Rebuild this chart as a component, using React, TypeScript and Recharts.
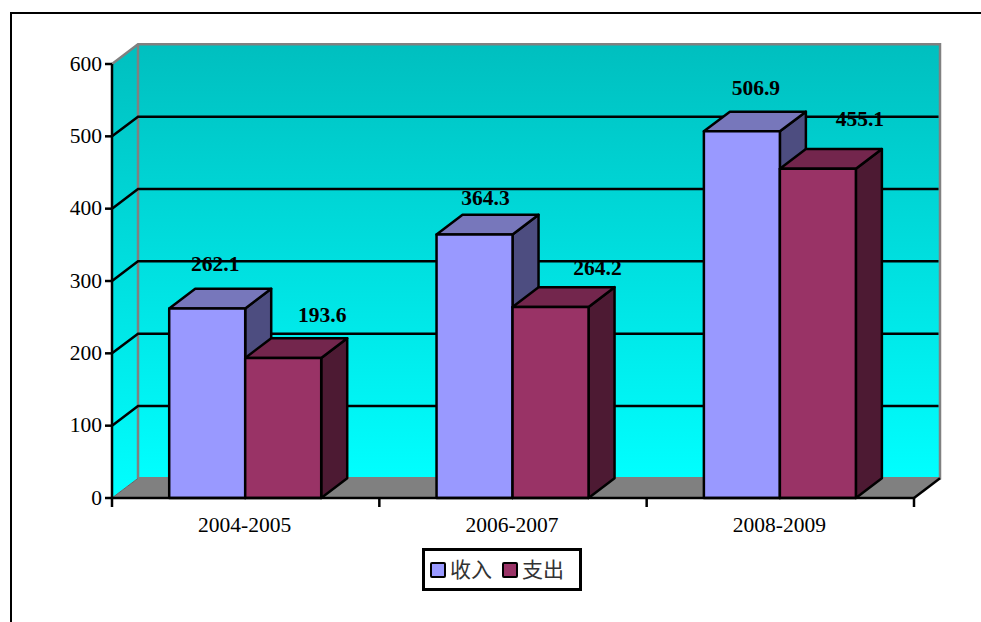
import { BarChart, Bar, XAxis, YAxis, ReferenceArea, ReferenceLine, LabelList, Legend } from "recharts";

const periods = ["2004-2005", "2006-2007", "2008-2009"];
const income = [262.1, 364.3, 506.9];
const spending = [193.6, 264.2, 455.1];
const yTicks = [0, 100, 200, 300, 400, 500, 600];

const data = periods.map((period, i) => ({ period, income: income[i], spending: spending[i] }));

// 3d look of the old office chart
const DX = 26;
const DY = 19.7;
const W = 981;
const H = 622;
const margin = { top: 64, right: 67, bottom: 41, left: 52 };
const plotWidth = 802;
const serif = '"Liberation Serif", "Noto Sans CJK SC", serif';

// hand placed label offsets from the bar top, the original has them dragged around
const incomeNudge = [[8, -44], [11, -36], [14, -43]];
const spendingNudge = [[39, -43], [47, -39], [42, -50]];

function pts(list: number[][]) {
  return list.map(p => p.join(",")).join(" ");
}

function Box3D(props: any) {
  const { x, y, width, height, front, top, side } = props;
  return (
    <g stroke="#000" strokeWidth={2.5} strokeLinejoin="round">
      <polygon fill={side} points={pts([[x + width, y], [x + width + DX, y - DY], [x + width + DX, y + height - DY], [x + width, y + height]])} />
      <polygon fill={top} points={pts([[x, y], [x + DX, y - DY], [x + width + DX, y - DY], [x + width, y]])} />
      <rect x={x} y={y} width={width} height={height} fill={front} />
    </g>
  );
}

function Walls(props: any) {
  const { x, y, width, height } = props;
  const b = y + height;
  const r = x + width;
  return (
    <g>
      <polygon fill="url(#wall)" points={pts([[x, y], [x + DX, y - DY], [x + DX, b - DY], [x, b]])} />
      <rect x={x + DX} y={y - DY} width={width} height={height} fill="url(#wall)" />
      <polygon fill="#808080" points={pts([[x, b], [x + DX, b - DY], [r + DX, b - DY], [r, b]])} />
      <polyline fill="none" stroke="#808080" strokeWidth={2.5} points={pts([[x, y], [x + DX, y - DY], [r + DX, y - DY], [r + DX, b - DY], [x + DX, b - DY]])} />
      <line x1={x + DX} y1={y - DY} x2={x + DX} y2={b - DY} stroke="#808080" strokeWidth={2.5} />
      <line x1={x} y1={b} x2={x + DX} y2={b - DY} stroke="#666" strokeWidth={1} />
      <line x1={r} y1={b} x2={r + DX} y2={b - DY} stroke="#000" strokeWidth={2.5} />
    </g>
  );
}

function GridLine(props: any) {
  const { x1, x2, y1 } = props;
  return (
    <polyline
      fill="none"
      stroke="#000"
      strokeWidth={2.5}
      points={pts([[x1, y1], [x1 + DX, y1 - DY], [x2 + DX - 1.5, y1 - DY]])}
    />
  );
}

function CategoryTick(props: any) {
  const { x, y, payload, index } = props;
  const band = plotWidth / periods.length;
  const left = x - band / 2;
  return (
    <g>
      <line x1={left} y1={y - 8} x2={left} y2={y + 1} stroke="#000" strokeWidth={2.5} />
      {index === periods.length - 1 && (
        <line x1={left + band} y1={y - 8} x2={left + band} y2={y + 1} stroke="#000" strokeWidth={2.5} />
      )}
      <text x={x - 1} y={y + 26} textAnchor="middle" fontSize={21.5} fontFamily={serif} fill="#000">
        {payload.value}
      </text>
    </g>
  );
}

function ValueLabel(props: any) {
  const { x, y, width, value, index, nudge } = props;
  return (
    <text
      x={x + width / 2 + nudge[index][0]}
      y={y + nudge[index][1] + 7}
      textAnchor="middle"
      fontSize={21.5}
      fontWeight="bold"
      fontFamily={serif}
      fill="#000"
    >
      {value}
    </text>
  );
}

function LegendBox() {
  const item = (color: string, name: string) => (
    <span style={{ display: "flex", alignItems: "center", marginRight: 10 }}>
      <span style={{ boxSizing: "border-box", width: 16, height: 16, background: color, border: "2.5px solid #000", borderRadius: 2, marginRight: 4 }} />
      <span style={{ fontSize: 21, fontFamily: serif, lineHeight: "24px", color: "#333" }}>{name}</span>
    </span>
  );
  return (
    <div
      style={{
        display: "flex",
        boxSizing: "border-box",
        width: 160,
        height: 43,
        border: "3px solid #000",
        background: "#fff",
        alignItems: "center",
        paddingLeft: 5
      }}
    >
      {item("#9999FF", "收入")}
      {item("#993366", "支出")}
    </div>
  );
}

export default function App() {
  return (
    <div style={{ position: "absolute", left: 0, top: 0, width: W, height: H, overflow: "hidden", background: "#fff" }}>
      <div style={{ position: "absolute", left: 10, top: 12, width: W, height: H, borderLeft: "2px solid #000", borderTop: "2px solid #000" }} />
      <div style={{ position: "absolute", left: 0, top: 0 }}>
        <BarChart width={W} height={H} data={data} margin={margin} barGap={0} barCategoryGap="21.4%">
          <defs>
            <linearGradient id="wall" x1="0" y1="0" x2="0" y2="1">
              <stop offset="0%" stopColor="#00BFBF" />
              <stop offset="100%" stopColor="#00FFFF" />
            </linearGradient>
          </defs>
          <ReferenceArea y1={0} y2={600} shape={<Walls />} ifOverflow="visible" zIndex={50} />
          {yTicks.slice(1, -1).map(t => (
            <ReferenceLine key={t} y={t} shape={<GridLine />} ifOverflow="visible" zIndex={60} />
          ))}
          <XAxis
            dataKey="period"
            height={40}
            interval={0}
            tickLine={false}
            axisLine={{ stroke: "#000", strokeWidth: 2.5 }}
            tick={<CategoryTick />}
          />
          <YAxis
            width={60}
            domain={[0, 600]}
            ticks={yTicks}
            tickSize={7}
            tickMargin={3}
            axisLine={{ stroke: "#000", strokeWidth: 2.5 }}
            tickLine={{ stroke: "#000", strokeWidth: 2.5 }}
            tick={{ fontSize: 21.5, fontFamily: serif, fill: "#000", dy: -1 }}
          />
          <Legend
            layout="horizontal"
            content={<LegendBox />}
            wrapperStyle={{ position: "absolute", left: 422, top: 548, width: 160, bottom: "auto" }}
          />
          <Bar
            dataKey="income"
            name="收入"
            isAnimationActive={false}
            shape={<Box3D front="#9999FF" top="#7777BB" side="#4D4D80" />}
          >
            <LabelList dataKey="income" content={<ValueLabel nudge={incomeNudge} />} />
          </Bar>
          <Bar
            dataKey="spending"
            name="支出"
            isAnimationActive={false}
            shape={<Box3D front="#993366" top="#73264D" side="#4D1A33" />}
          >
            <LabelList dataKey="spending" content={<ValueLabel nudge={spendingNudge} />} />
          </Bar>
        </BarChart>
      </div>
    </div>
  );
}
